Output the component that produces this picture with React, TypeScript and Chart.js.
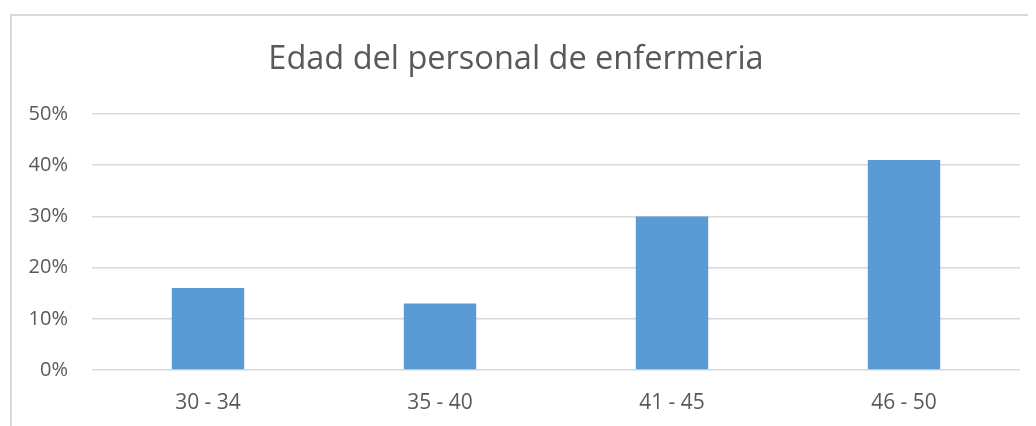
import React, { useEffect, useRef } from "react";
import { Chart, registerables } from "chart.js";

Chart.register(...registerables);

const categories: string[] = ["30 - 34", "35 - 40", "41 - 45", "46 - 50"];
const percentages: number[] = [16, 13, 30, 41];
const chartTitle = "Edad del personal de enfermeria";
const yMax = 50;
const yStep = 10;

const TEXT = "#595959";
const GRID = "#d9d9d9";
const BAR = "#5b9bd5";
const FONT = "'Open Sans', sans-serif";

export default function App() {
  const ref = useRef<HTMLCanvasElement | null>(null);

  useEffect(() => {
    if (!ref.current) return;
    const chart = new Chart(ref.current, {
      type: "bar",
      data: {
        labels: categories,
        datasets: [
          {
            data: percentages,
            backgroundColor: BAR,
            borderWidth: 0,
            categoryPercentage: 1,
            barPercentage: 0.312,
          },
        ],
      },
      options: {
        responsive: false,
        animation: false,
        layout: { padding: { left: 0, right: 30, top: 0, bottom: 0 } },
        plugins: {
          legend: { display: false },
          tooltip: { enabled: false },
          title: {
            display: true,
            text: chartTitle,
            color: TEXT,
            font: { family: FONT, size: 32.5, weight: "normal" },
            padding: { top: 24, bottom: 35 },
          },
        },
        scales: {
          x: {
            grid: { display: false, drawTicks: false },
            border: { display: false },
            ticks: {
              color: TEXT,
              font: { family: FONT, size: 21 },
              padding: 20,
              maxRotation: 0,
            },
            afterFit: (scale: any) => {
              scale.height = 56;
            },
          },
          y: {
            min: 0,
            max: yMax,
            grid: { color: GRID, lineWidth: 1.5, drawTicks: false },
            border: { display: false },
            ticks: {
              stepSize: yStep,
              color: TEXT,
              font: { family: FONT, size: 20 },
              padding: 24,
              callback: (v: any) => `${v}%`,
            },
            afterFit: (scale: any) => {
              scale.width = 80;
            },
          },
        },
      },
    });
    return () => chart.destroy();
  }, []);

  return (
    <div
      style={{
        position: "relative",
        marginLeft: 2,
        marginTop: 6,
        width: 1024,
        height: 410,
        overflow: "hidden",
        borderTop: `2px solid ${GRID}`,
        borderLeft: `2px solid ${GRID}`,
      }}
    >
      <canvas ref={ref} width={1038} height={410} style={{ display: "block" }} />
    </div>
  );
}
